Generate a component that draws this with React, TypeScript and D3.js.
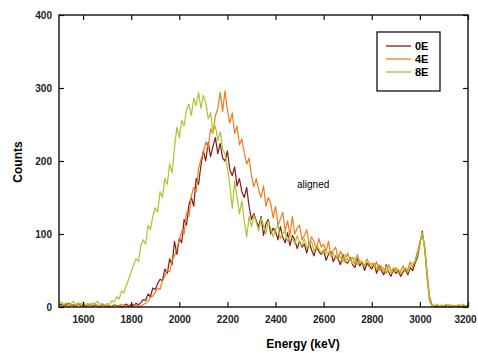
import React, { useEffect, useRef } from "react";
import * as d3 from "d3";

// energy grid: 1500..3200 keV, 10 keV steps
const energyStart = 1500;
const energyStep = 10;

const seriesNames = ["0E", "4E", "8E"];
const seriesColors = ["#8a1616", "#f07b1c", "#a9c630"];

const counts0E = [
  2, 4, 1, 3, 5, 2, 3, 1, 4, 2,
  3, 1, 2, 4, 1, 3, 2, 0, 3, 1,
  2, 0, 1, 3, 1, 2, 0, 2, 4, 1,
  4, 2, 5, 3, 6, 10, 9, 18, 14, 26,
  24, 32, 38, 36, 52, 46, 66, 58, 90, 72,
  94, 88, 120, 112, 140, 150, 138, 176, 168, 194,
  214, 200, 226, 206, 220, 232, 210, 224, 204, 200,
  214, 188, 180, 192, 166, 176, 158, 150, 164, 138,
  120, 128, 118, 110, 124, 98, 114, 120, 100, 108,
  104, 92, 110, 96, 88, 102, 84, 98, 92, 80,
  90, 82, 86, 74, 88, 78, 70, 84, 76, 72,
  78, 64, 72, 76, 62, 70, 66, 58, 72, 62,
  60, 68, 58, 54, 66, 56, 62, 50, 60, 56,
  52, 60, 46, 56, 50, 44, 58, 48, 42, 52,
  46, 50, 42, 48, 52, 44, 54, 50, 60, 68,
  86, 104, 80, 42, 10, 2, 1, 0, 2, 1,
  0, 2, 1, 0, 1, 2, 0, 1, 0, 2,
  1,
];

const counts4E = [
  3, 1, 4, 2, 0, 3, 1, 2, 4, 1,
  2, 0, 3, 1, 2, 4, 1, 0, 2, 3,
  1, 2, 0, 3, 1, 2, 4, 1, 2, 0,
  2, 1, 3, 0, 2, 3, 5, 8, 13, 15,
  20, 26, 24, 36, 42, 50, 48, 64, 70, 80,
  92, 104, 100, 130, 124, 152, 164, 158, 190, 202,
  212, 226, 218, 244, 238, 262, 272, 294, 268, 296,
  270, 252, 266, 238, 248, 222, 230, 212, 196, 204,
  180, 165, 176, 160, 150, 166, 138, 150, 142, 122,
  138, 112, 120, 130, 104, 118, 98, 124, 100, 108,
  112, 92, 98, 106, 84, 96, 90, 78, 94, 82,
  86, 76, 90, 70, 78, 82, 66, 76, 70, 62,
  74, 64, 68, 58, 72, 60, 62, 56, 66, 58,
  60, 54, 62, 50, 56, 52, 46, 58, 50, 48,
  54, 46, 50, 56, 48, 52, 62, 54, 64, 76,
  90, 98, 84, 50, 15, 4, 1, 3, 2, 0,
  2, 1, 3, 0, 2, 1, 3, 1, 2, 0,
  1,
];

const counts8E = [
  4, 7, 3, 6, 2, 5, 8, 3, 6, 4,
  7, 3, 5, 2, 6, 4, 8, 3, 5, 2,
  5, 3, 9, 7, 14, 11, 22, 19, 30, 38,
  48, 58, 66, 62, 84, 92, 86, 112, 106, 124,
  136, 130, 158, 150, 176, 168, 196, 184, 218, 246,
  232, 256, 248, 270, 278, 262, 286, 276, 294, 272,
  290, 280, 258, 266, 240, 248, 228, 240, 216, 210,
  190, 168, 135, 172, 150, 128, 145, 118, 96, 124,
  110, 126, 116, 104, 122, 112, 100, 118, 108, 96,
  106, 112, 94, 100, 104, 90, 98, 94, 86, 98,
  88, 84, 94, 80, 86, 90, 76, 84, 80, 74,
  78, 72, 76, 70, 74, 66, 72, 68, 62, 72,
  64, 66, 60, 68, 58, 64, 62, 56, 64, 60,
  56, 60, 52, 58, 54, 48, 56, 50, 46, 54,
  50, 52, 46, 50, 54, 48, 56, 60, 62, 72,
  88, 102, 80, 45, 8, 2, 2, 4, 1, 3,
  2, 4, 1, 3, 2, 1, 3, 2, 4, 1,
  2,
];

const xTicks = [1600, 1800, 2000, 2200, 2400, 2600, 2800, 3000, 3200];
const yTicks = [0, 100, 200, 300, 400];

export default function App() {
  const svgRef = useRef(null);

  useEffect(() => {
    const width = 478;
    const height = 353;
    const left = 59, right = 468, top = 15, bottom = 307;
    const font = "'Liberation Sans', Arial, sans-serif";

    const svg = d3.select(svgRef.current);
    svg.selectAll("*").remove();
    svg.attr("width", width).attr("height", height);

    svg.append("rect").attr("width", width).attr("height", height).attr("fill", "#fff");

    const xScale = d3.scaleLinear().domain([1500, 3200]).range([left, right]);
    const yScale = d3.scaleLinear().domain([0, 400]).range([bottom, top]);

    // spectra
    const allSeries = [counts0E, counts4E, counts8E];
    const line = d3.line<number>()
      .x((d, i) => xScale(energyStart + i * energyStep))
      .y((d) => yScale(d));

    const plot = svg.append("g");
    allSeries.forEach((values, k) => {
      plot.append("path")
        .datum(values)
        .attr("d", line)
        .attr("fill", "none")
        .attr("stroke", seriesColors[k])
        .attr("stroke-width", 1.2)
        .attr("stroke-linejoin", "round");
    });

    // frame
    svg.append("rect")
      .attr("x", left).attr("y", top)
      .attr("width", right - left).attr("height", bottom - top)
      .attr("fill", "none").attr("stroke", "#111").attr("stroke-width", 1.4);

    // x axis, ticks inward
    const xMinor = d3.range(1500, 3201, 50);
    const xAxis = svg.append("g").attr("transform", `translate(0, ${bottom})`);
    xAxis.call(d3.axisBottom(xScale).tickValues(xMinor).tickSize(-3).tickFormat(() => ""));
    xAxis.call(d3.axisBottom(xScale).tickValues(xTicks).tickSize(-5).tickPadding(9).tickFormat(d3.format("d")));
    // last label sits on the page edge, nudge it in a bit
    xAxis.selectAll(".tick text").filter((d) => d === 3200).attr("dx", -3);
    const xTop = svg.append("g").attr("transform", `translate(0, ${top})`);
    xTop.call(d3.axisTop(xScale).tickValues(xMinor).tickSize(-3).tickFormat(() => ""));
    xTop.call(d3.axisTop(xScale).tickValues(xTicks).tickSize(-5).tickFormat(() => ""));

    // y axis
    const yMinor = d3.range(0, 401, 20);
    const yAxis = svg.append("g").attr("transform", `translate(${left}, 0)`);
    yAxis.call(d3.axisLeft(yScale).tickValues(yMinor).tickSize(-3).tickFormat(() => ""));
    yAxis.call(d3.axisLeft(yScale).tickValues(yTicks).tickSize(-5).tickPadding(7).tickFormat(d3.format("d")));
    const yRight = svg.append("g").attr("transform", `translate(${right}, 0)`);
    yRight.call(d3.axisRight(yScale).tickValues(yMinor).tickSize(-3).tickFormat(() => ""));
    yRight.call(d3.axisRight(yScale).tickValues(yTicks).tickSize(-5).tickFormat(() => ""));

    svg.selectAll(".domain").remove();
    svg.selectAll(".tick line").attr("stroke", "#111").attr("stroke-width", 1.2);
    svg.selectAll(".tick text")
      .attr("font-family", font)
      .attr("font-size", 10)
      .attr("font-weight", "bold")
      .attr("fill", "#222");

    // axis titles
    svg.append("text")
      .attr("x", 303).attr("y", 348)
      .attr("text-anchor", "middle")
      .attr("font-family", font).attr("font-size", 12).attr("font-weight", "bold")
      .text("Energy (keV)");
    svg.append("text")
      .attr("transform", "translate(22, 162) rotate(-90)")
      .attr("text-anchor", "middle")
      .attr("font-family", font).attr("font-size", 12).attr("font-weight", "bold")
      .text("Counts");

    // annotation
    svg.append("text")
      .attr("x", 297).attr("y", 188)
      .attr("font-family", font).attr("font-size", 10)
      .text("aligned");

    // legend
    const lg = svg.append("g");
    lg.append("rect")
      .attr("x", 377).attr("y", 32).attr("width", 63).attr("height", 59)
      .attr("fill", "#fff").attr("stroke", "#111").attr("stroke-width", 1.3);
    seriesNames.forEach((name, k) => {
      const yy = 46 + k * 13;
      lg.append("line")
        .attr("x1", 386).attr("x2", 411).attr("y1", yy).attr("y2", yy)
        .attr("stroke", seriesColors[k]).attr("stroke-width", 1.3);
      lg.append("text")
        .attr("x", 415).attr("y", yy + 4)
        .attr("font-family", font).attr("font-size", 11).attr("font-weight", "bold")
        .text(name);
    });
  }, []);

  return (
    <svg ref={svgRef} style={{ position: "absolute", left: 0, top: 0 }}></svg>
  );
}
